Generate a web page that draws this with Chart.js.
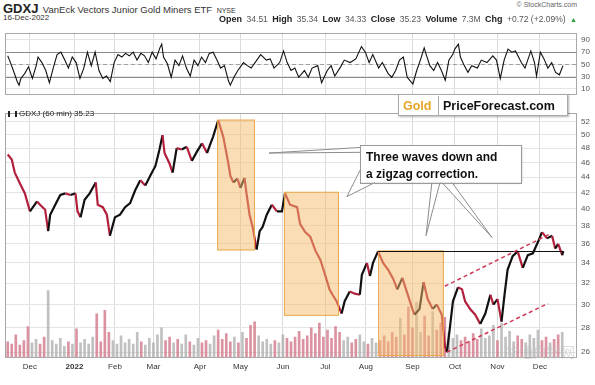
<!DOCTYPE html>
<html><head><meta charset="utf-8">
<script src="https://cdn.jsdelivr.net/npm/chart.js@4/dist/chart.umd.min.js"></script>
<style>
body{margin:0;width:595px;height:385px;background:#fff;position:relative;overflow:hidden;font-family:Arial,"Liberation Sans",sans-serif;}
.abs{position:absolute;white-space:nowrap;}
canvas{position:absolute;left:0;}
.lb{font-weight:bold;font-size:9px;color:#222;}
.vl{font-size:8.5px;color:#555;}
</style></head><body>
<canvas id="rsi" width="595" height="80" style="top:24px"></canvas>
<canvas id="px" width="595" height="281" style="top:104px"></canvas>

<div class="abs" style="left:3px;top:0px;line-height:15px;"><b style="font-size:13px;color:#222">GDXJ</b> <span style="font-size:9.5px;color:#333">VanEck Vectors Junior Gold Miners ETF</span> <span style="font-size:7px;color:#333">NYSE</span></div>
<div class="abs" style="left:3px;top:12px;font-size:8px;color:#333;line-height:12px;">16-Dec-2022</div>
<div class="abs" style="right:18px;top:0px;font-size:7px;color:#666;line-height:9px;">© StockCharts.com</div>
<div class="abs" style="right:18px;top:11px;line-height:12px;"><span class="lb">Open</span> <span class="vl">34.51</span> <span class="lb">High</span> <span class="vl">35.34</span> <span class="lb">Low</span> <span class="vl">34.33</span> <span class="lb">Close</span> <span class="vl">35.23</span> <span class="lb">Volume</span> <span class="vl">7.3M</span> <span class="lb">Chg</span> <span class="vl">+0.72 (+2.09%)</span> <span style="font-size:7px;color:#2a9a3a">▲</span></div>

<div class="abs" style="left:8px;top:109px;font-size:8px;color:#222;line-height:10px;"><span style="display:inline-block;width:5px;height:6px;border-left:2px solid #222;border-right:2px solid #222;margin-right:2px;vertical-align:-1px"></span>GDXJ (60 min) 35.23</div>

<div class="abs" style="left:398px;top:94px;width:168px;height:20px;border:1px solid #aaa;background:#fff;box-shadow:1px 1px 2px rgba(0,0,0,0.3);line-height:20px;">
<span style="display:inline-block;width:35px;padding-left:4px;font-weight:bold;font-size:12.5px;color:#e6a427;border-right:1px solid #aaa;">Gold</span><span style="padding-left:4px;font-weight:bold;font-size:12.5px;color:#111;">PriceForecast.com</span></div>

<div class="abs" style="left:505px;top:341px;font-size:14px;color:rgba(190,190,190,0.55);font-family:'Noto Sans CJK SC';">华通白银网</div>

<script>
// ---- data ----
const monthDays   = [11,33,53,72,95,115,136,157,177,200,221,242,263];
const monthLabels = ['Dec','2022','Feb','Mar','Apr','May','Jun','Jul','Aug','Sep','Oct','Nov','Dec'];
const priceTicks  = [26,28,30,32,34,36,38,40,42,44,46,48,50,52];
const rsiTicks    = [10,30,50,70,90];
const volTicks    = [10,20,30,40,50,60];

const days = [0,2,3.5,6,8.5,11,12.5,14.5,16,18.5,20,21,23.5,26,28.5,31,33.5,34.5,36,38,40.5,43.5,44.5,47,49,50.5,53,55.5,58,60.5,63,65.5,68,70.5,73,75,76.5,77.5,80,81.5,83.5,86,88.5,91,93.5,96,98.5,100,101.5,104,
106.5,109,110,111.5,113.5,115,117,118,119.5,121,123,124.5,126,128,130.5,133,135.5,137,139.5,143,144.5,147,149.5,152,154.5,157,159,160.5,162.5,165,166.5,169,171.5,174,175,177.5,179,180.5,183,185.5,188,190.5,192.5,195,197.5,200,201,203.5,205.5,207.5,210,212,214.5,216,217,218.5,220,222.5,224.5,226,228.5,231,233.5,236,238.5,240,242,244,245.5,247,249.5,252,254.5,257,259.5,262,264,266.5,269,270.5,272,274,274.5];
const closes = [47.1,46.4,44.6,43.2,41.9,39.7,40.2,40.9,40.5,39.9,37.4,39.3,40.5,41.7,41.9,41.7,41.9,39.7,39.0,41.1,41.9,43.3,40.5,40.2,39.3,36.9,39.0,39.3,40.2,40.7,42.3,43.6,42.9,44.2,45.5,47.8,49.9,47.3,45.8,44.6,48.0,47.8,48.2,46.2,47.5,48.7,47.3,48.5,49.7,52.2,
49.7,45.9,44.2,43.3,43.8,42.6,43.9,41.9,39.3,37.9,35.4,37.4,37.9,39.3,40.5,39.7,39.7,41.9,40.5,40.2,38.2,37.3,36.8,35.3,34.3,32.7,31.4,30.9,30.3,29.2,30.3,31.2,31.0,30.9,32.8,34.0,32.7,34.0,35.2,34.0,33.3,32.4,31.4,32.5,31.0,29.6,29.1,29.6,32.1,30.5,29.6,30.0,29.1,26.5,26.0,28.0,30.3,31.6,31.4,30.3,29.6,29.1,28.3,29.2,30.9,30.0,30.5,28.5,30.9,33.3,34.7,35.2,33.5,34.8,35.0,36.2,37.3,36.6,36.9,35.5,36.0,34.8,35.23];

const rsiDays = [0,0.9,2.8,4.7,5.6,6.5,8.4,10.3,12.2,14.1,15,16.9,18.8,20.6,22.5,24.4,26.3,28.2,30,31.9,33.8,35.7,37.6,39.4,41.3,43.2,45.1,47,48.8,50.7,52.6,54.5,56.4,58.2,60.1,62,63.9,65.8,67.6,69.5,71.4,73.3,75.2,76.1,77,78.9,80.8,82.7,84.6,86.4,88.3,90.2,92.1,94,95.8,97.7,99.6,101.5,103.4,105.2,107.1,109,110,111.8,113.7,116.5,118.4,120.3,123.1,125,127.8,129.7,131.6,134.4,136.3,138.1,140,141.9,143.8,146.6,148.5,150.4,153.2,155.1,157.9,159.8,161.6,164.5,166.3,169.2,172,174.8,176.7,178.6,180.4,183.3,185.1,188,189.8,191.7,193.6,195.5,197.4,199.2,200.2,202.1,203.9,205.8,206.8,208.6,210.5,212.4,214.3,216.2,218,219.9,220.9,222.7,223.7,225.6,227.4,229.3,232.1,234,236.8,239.7,241.5,243.4,245.3,247.2,249.1,250.9,253.8,255.6,258.5,260.3,261.3,263.2,265,266.9,268.8,270.7,272.6,274.4];
const rsiValues = [64,57,40,22,16,27,35,46,27,48,62,53,40,20,44,66,70,57,44,62,53,27,44,70,48,70,40,27,31,22,53,66,62,68,64,70,57,68,64,53,70,59,77,83,62,51,29,57,48,64,44,31,57,48,62,53,68,70,57,44,48,24,16,29,40,53,48,44,57,66,57,59,44,53,72,53,40,44,29,40,29,44,48,20,40,48,31,46,57,53,59,79,70,53,66,44,53,35,29,40,57,62,29,22,18,40,57,77,66,48,40,53,40,24,57,66,75,83,62,48,37,48,44,57,53,64,57,27,57,75,70,72,53,44,72,53,31,70,59,44,53,37,33,48];

const volStep = 2; // one volume bar every 2 trading days, starting at day 0
const volume = [14,12,20,11,15,27,13,16,12,18,58,15,12,17,10,14,12,25,13,16,12,18,38,14,41,22,15,12,19,13,16,12,22,14,11,17,13,20,26,15,18,13,16,12,20,14,11,17,13,15,12,19,24,16,21,14,18,13,22,17,28,31,19,14,16,12,15,13,20,17,14,18,23,16,19,26,21,30,18,24,17,27,22,15,18,13,16,20,14,12,17,13,15,19,14,22,18,34,20,44,26,48,22,36,19,40,24,30,35,22,17,20,15,18,14,21,16,25,17,19,28,15,30,18,23,14,19,16,13,20,17,24,15,18,13,16,20,22];

// annotations (data coordinates: trading-day index, price)
const zones = [[103.5,122.2,35.3,52.3],[136.5,163.7,29.0,42.1],[183,215.5,25.7,35.3]];
const resistance = {from:183, to:274.5, level:35.23};
const channels = [[216,31.7,268,37.1],[217,26.0,267,30.1]];
const callout = {x0:174.1, x1:253.6, top:48.5, bottom:43.3, lines:['Three waves down and','a zigzag correction.']};
const wedges = [
  [[129.1,47.3],[174.1,48.1],[174.1,47.4]],
  [[167.6,41.5],[174.1,44.9],[181.5,43.3]],
  [[206.7,36.9],[209.6,43.3],[213.6,43.3]],
  [[239.3,36.7],[214.6,43.3],[219.5,43.3]]
];

// ---- chart ----
Chart.defaults.font.family = 'Arial, "Liberation Sans", sans-serif';
Chart.defaults.animation = false;
const X_MIN = -1.33, X_MAX = 281.3;
const RED = '#b3203c', BLACK = '#111';

const borderPlugin = {
  id:'panelBorder',
  afterDraw(chart){
    const a = chart.chartArea, c = chart.ctx;
    c.save(); c.strokeStyle = '#a8a8a8'; c.lineWidth = 1;
    c.strokeRect(Math.round(a.left)+0.5, Math.round(a.top)+0.5, Math.round(a.right-a.left)-1, Math.round(a.bottom-a.top)-1);
    c.restore();
  }
};

function xAxis(extra){
  return Object.assign({
    type:'linear', min:X_MIN, max:X_MAX, offset:false, bounds:'data',
    afterBuildTicks(s){ s.ticks = monthDays.map(v=>({value:v})); },
    grid:{color:'#dadada', drawTicks:false, offset:false},
    border:{display:false}
  }, extra);
}

const rsiLines = {
  id:'rsiLines',
  beforeDatasetsDraw(chart){
    const c = chart.ctx, a = chart.chartArea, y = chart.scales.y;
    c.save(); c.lineWidth = 1;
    [30,70].forEach(v=>{ const p = Math.round(y.getPixelForValue(v))+0.5; c.strokeStyle='#8a8a8a'; c.beginPath(); c.moveTo(a.left,p); c.lineTo(a.right,p); c.stroke(); });
    const p = Math.round(y.getPixelForValue(50))+0.5;
    c.strokeStyle='#a0a0a0'; c.setLineDash([4,3]); c.beginPath(); c.moveTo(a.left,p); c.lineTo(a.right,p); c.stroke();
    c.restore();
  }
};

new Chart(document.getElementById('rsi'), {
  type:'line',
  data:{datasets:[{data:rsiDays.map((d,i)=>({x:d,y:rsiValues[i]})), borderColor:'#111', borderWidth:1.1, pointRadius:0, tension:0}]},
  options:{
    responsive:false, devicePixelRatio:1,
    layout:{padding:{left:5,top:0,bottom:0,right:0}},
    plugins:{legend:{display:false}, tooltip:{enabled:false}},
    scales:{
      x:xAxis({ticks:{display:false}, afterFit(s){s.height=1;}}),
      y:{position:'right', min:-0.3, max:101.6,
        afterBuildTicks(s){ s.ticks = rsiTicks.map(v=>({value:v})); },
        afterFit(s){ s.width = 18; },
        ticks:{font:{size:8}, color:'#555', padding:4, callback:v=>String(v)},
        grid:{color:'#e4e4e4', drawTicks:false}, border:{display:false}}
    }
  },
  plugins:[rsiLines, borderPlugin]
});

function volColor(d){
  let j = 0;
  while (j < days.length-2 && days[j+1] <= d) j++;
  return closes[j+1] < closes[j] ? 'rgba(205,105,125,0.72)' : 'rgba(165,165,165,0.7)';
}

const annot = {
  id:'annot',
  afterDatasetsDraw(chart){
    const c = chart.ctx, xs = chart.scales.x, ys = chart.scales.y;
    const X = v => xs.getPixelForValue(v), Y = v => ys.getPixelForValue(v);
    c.save();
    zones.forEach(z=>{
      const x0=X(z[0]), x1=X(z[1]), y0=Y(z[3]), y1=Y(z[2]);
      c.fillStyle='rgba(246,188,105,0.5)'; c.fillRect(x0,y0,x1-x0,y1-y0);
      c.strokeStyle='rgba(232,165,70,0.9)'; c.lineWidth=1; c.strokeRect(x0+0.5,y0+0.5,x1-x0-1,y1-y0-1);
    });
    c.strokeStyle='#111'; c.lineWidth=1;
    const ry = Math.round(Y(resistance.level))+0.5;
    c.beginPath(); c.moveTo(X(resistance.from),ry); c.lineTo(X(resistance.to),ry); c.stroke();
    c.strokeStyle='#d03a58'; c.lineWidth=1.5; c.setLineDash([4,3]);
    channels.forEach(l=>{ c.beginPath(); c.moveTo(X(l[0]),Y(l[1])); c.lineTo(X(l[2]),Y(l[3])); c.stroke(); });
    c.setLineDash([]);
    wedges.forEach(w=>{
      c.beginPath(); c.moveTo(X(w[1][0]),Y(w[1][1])); c.lineTo(X(w[0][0]),Y(w[0][1])); c.lineTo(X(w[2][0]),Y(w[2][1]));
      c.fillStyle='#fff'; c.fill(); c.strokeStyle='#8c8c8c'; c.lineWidth=1; c.stroke();
    });
    const bx0=X(callout.x0), bx1=X(callout.x1), by0=Y(callout.top), by1=Y(callout.bottom);
    c.shadowColor='rgba(0,0,0,0.25)'; c.shadowBlur=2; c.shadowOffsetX=1; c.shadowOffsetY=1;
    c.fillStyle='#fff'; c.fillRect(bx0,by0,bx1-bx0,by1-by0);
    c.shadowColor='transparent';
    c.strokeStyle='#9a9a9a'; c.lineWidth=1; c.strokeRect(Math.round(bx0)+0.5,Math.round(by0)+0.5,Math.round(bx1-bx0),Math.round(by1-by0));
    c.fillStyle='#111'; c.font='bold 12px Arial, "Liberation Sans", sans-serif'; c.textBaseline='alphabetic';
    callout.lines.forEach((t,i)=> c.fillText(t, bx0+6, by0+16+i*17));
    c.restore();
  }
};

new Chart(document.getElementById('px'), {
  data:{datasets:[
    {type:'line', order:1, yAxisID:'y', data:days.map((d,i)=>({x:d,y:closes[i]})), borderColor:BLACK, borderWidth:2.2, pointRadius:0, tension:0,
      segment:{borderColor:ctx=> ctx.p1.parsed.y < ctx.p0.parsed.y ? RED : BLACK}},
    {type:'bar', order:2, yAxisID:'yVol', data:volume.map((v,i)=>({x:i*volStep, y:v})), barThickness:2,
      backgroundColor:volume.map((v,i)=>volColor(i*volStep))}
  ]},
  options:{
    responsive:false, devicePixelRatio:1,
    layout:{padding:{left:0,top:1,bottom:0,right:0}},
    plugins:{legend:{display:false}, tooltip:{enabled:false}},
    scales:{
      x:xAxis({
        afterFit(s){ s.height = 27; },
        ticks:{autoSkip:false, maxRotation:0, padding:4, color:'#333',
          font:c=>({size:8, weight:(c.tick && c.tick.label==='2022') ? 'bold' : 'normal'}),
          callback:v=>{ const i = monthDays.indexOf(v); return i>=0 ? monthLabels[i] : ''; }}
      }),
      y:{type:'logarithmic', position:'right', min:25.55, max:53.38,
        afterBuildTicks(s){ s.ticks = priceTicks.map(v=>({value:v})); },
        afterFit(s){ s.width = 18; },
        ticks:{font:{size:8}, color:'#555', padding:4, callback:v=>String(v)},
        grid:{color:'#e4e4e4', drawTicks:false}, border:{display:false}},
      yVol:{type:'linear', position:'left', min:0, max:210.8,
        afterBuildTicks(s){ s.ticks = volTicks.map(v=>({value:v})); },
        afterFit(s){ s.width = 5; },
        ticks:{font:{size:7}, color:'#444', padding:0, callback:()=> 'M'},
        grid:{display:false}, border:{display:false}}
    }
  },
  plugins:[annot, borderPlugin]
});
</script>
</body></html>
